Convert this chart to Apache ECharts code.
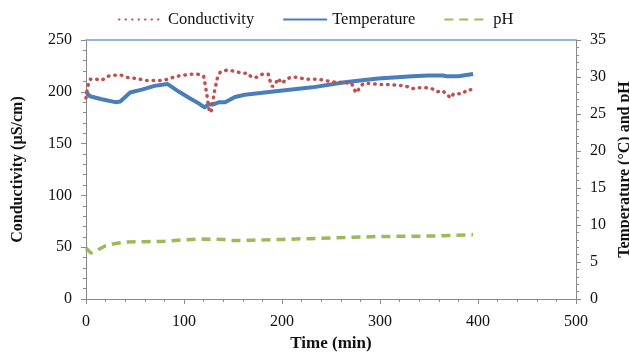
<!DOCTYPE html>
<html>
<head>
<meta charset="utf-8">
<script src="https://cdn.jsdelivr.net/npm/echarts@6/dist/echarts.min.js"></script>
<style>
  html, body { margin: 0; padding: 0; background: #fff; }
  #chart { width: 629px; height: 352px; }
</style>
</head>
<body>
<div id="chart"></div>
<script>
// conductivity (µS/cm), left axis
const condTime = [0, 2, 4, 11, 16, 19, 22, 29, 36, 41, 50, 61, 71, 79, 86, 92, 100, 106, 114, 120, 122, 124, 126, 128, 131, 134, 137, 144, 151, 159, 165, 169, 174, 180, 186, 188, 190, 193, 196, 198, 200, 204, 209, 216, 224, 231, 237, 244, 251, 257, 264, 271, 273, 276, 280, 283, 292, 298, 305, 312, 318, 325, 333, 339, 346, 353, 358, 364, 369, 372, 375, 378, 384, 389, 395];
const condValues = [194, 206, 212, 212, 211, 213, 215, 216, 216, 214, 213, 211, 211, 211, 213, 215, 216, 217, 217, 215, 205, 193, 180, 182, 200, 213, 219, 221, 220, 218, 218, 214, 214, 217, 217, 210, 205, 207, 213, 213, 208, 212, 214, 214, 212, 212, 212, 211, 209.5, 209.5, 208.5, 208.5, 203, 199, 205, 208, 208, 207, 207, 207, 206, 206, 203, 204, 204, 203, 200, 201, 197, 194, 198, 198, 198, 202, 202];

// temperature (°C), right axis
const tempTime = [0, 4, 16, 30, 35, 45, 57, 70, 83, 86, 95, 105, 113, 121, 125, 130, 136, 142, 152, 162, 196, 231, 264, 298, 333, 349, 364, 368, 380, 395];
const tempValues = [28.0, 27.4, 27.0, 26.6, 26.7, 27.9, 28.3, 28.8, 29.05, 28.8, 28.0, 27.2, 26.6, 25.9, 26.3, 26.3, 26.6, 26.6, 27.3, 27.6, 28.1, 28.6, 29.3, 29.8, 30.1, 30.2, 30.2, 30.1, 30.1, 30.4];

// pH, right axis
const phTime = [0, 5, 10, 20, 30, 40, 60, 80, 100, 120, 140, 150, 170, 200, 250, 300, 350, 395];
const phValues = [6.9, 6.2, 6.5, 7.2, 7.5, 7.7, 7.75, 7.8, 8.0, 8.1, 8.05, 7.9, 7.95, 8.05, 8.25, 8.45, 8.5, 8.7];

const pairs = (xs, ys) => xs.map((x, i) => [x, ys[i]]);

const font = 'Liberation Serif';
const axisGrey = '#8a8a8a';
const tickLabel = { fontFamily: font, fontSize: 16, color: '#111' };
const axisName = { fontFamily: font, fontSize: 16, fontWeight: 'bold', color: '#111' };

const chart = echarts.init(document.getElementById('chart'));
chart.setOption({
  backgroundColor: '#fff',
  animation: false,
  textStyle: { fontFamily: font },
  legend: {
    top: 6,
    left: 113,
    itemWidth: 44,
    itemHeight: 12,
    itemGap: 28,
    itemStyle: { opacity: 0 },
    textStyle: { fontFamily: font, fontSize: 16.5, color: '#111' },
    data: ['Conductivity', 'Temperature', 'pH'],
  },
  grid: { left: 86, right: 53, top: 40, bottom: 53, outerBoundsMode: 'none' },
  xAxis: [{
    type: 'value',
    min: 0, max: 500, interval: 100,
    name: 'Time (min)',
    nameLocation: 'middle',
    nameGap: 36,
    nameTextStyle: { ...axisName, fontSize: 17 },
    axisLine: { onZero: false, lineStyle: { color: axisGrey } },
    axisTick: { length: 5, lineStyle: { color: axisGrey } },
    minorTick: { show: true, splitNumber: 5, length: 3, lineStyle: { color: axisGrey } },
    axisLabel: { ...tickLabel, margin: 15 },
    splitLine: { show: false },
  }, {
    type: 'value',
    position: 'top',
    min: 0, max: 500,
    axisLine: { onZero: false, lineStyle: { color: '#6f9ed6', width: 1.5 } },
    axisTick: { show: false },
    axisLabel: { show: false },
    splitLine: { show: false },
  }],
  yAxis: [{
    type: 'value',
    min: 0, max: 250, interval: 50,
    name: 'Conductivity (µS/cm)',
    nameLocation: 'middle',
    nameGap: 60,
    nameRotate: 90,
    nameTextStyle: axisName,
    axisLine: { show: true, onZero: false, lineStyle: { color: axisGrey } },
    axisTick: { show: true, length: 5, lineStyle: { color: axisGrey } },
    minorTick: { show: true, splitNumber: 5, length: 3, lineStyle: { color: axisGrey } },
    axisLabel: { ...tickLabel, margin: 14 },
    splitLine: { show: false },
  }, {
    type: 'value',
    position: 'right',
    min: 0, max: 35, interval: 5,
    name: 'Temperature (°C) and pH',
    nameLocation: 'middle',
    nameGap: 37,
    nameRotate: 90,
    nameTextStyle: axisName,
    axisLine: { show: true, onZero: false, lineStyle: { color: axisGrey } },
    axisTick: { show: true, length: 5, lineStyle: { color: axisGrey } },
    minorTick: { show: true, splitNumber: 5, length: 3, lineStyle: { color: axisGrey } },
    axisLabel: { ...tickLabel, margin: 14 },
    splitLine: { show: false },
  }],
  series: [{
    name: 'Conductivity',
    type: 'line',
    yAxisIndex: 0,
    symbol: 'none',
    color: '#c0504d',
    lineStyle: { color: '#c0504d', width: 3.5, type: [0.5, 6], cap: 'round' },
    data: pairs(condTime, condValues),
    z: 3,
  }, {
    name: 'Temperature',
    type: 'line',
    yAxisIndex: 1,
    symbol: 'none',
    color: '#4a7ebb',
    lineStyle: { color: '#4a7ebb', width: 4, join: 'round' },
    data: pairs(tempTime, tempValues),
    z: 2,
  }, {
    name: 'pH',
    type: 'line',
    yAxisIndex: 1,
    symbol: 'none',
    color: '#9bbb59',
    lineStyle: { color: '#9bbb59', width: 3.5, type: [9, 6] },
    data: pairs(phTime, phValues),
    z: 2,
  }],
});
</script>
</body>
</html>
